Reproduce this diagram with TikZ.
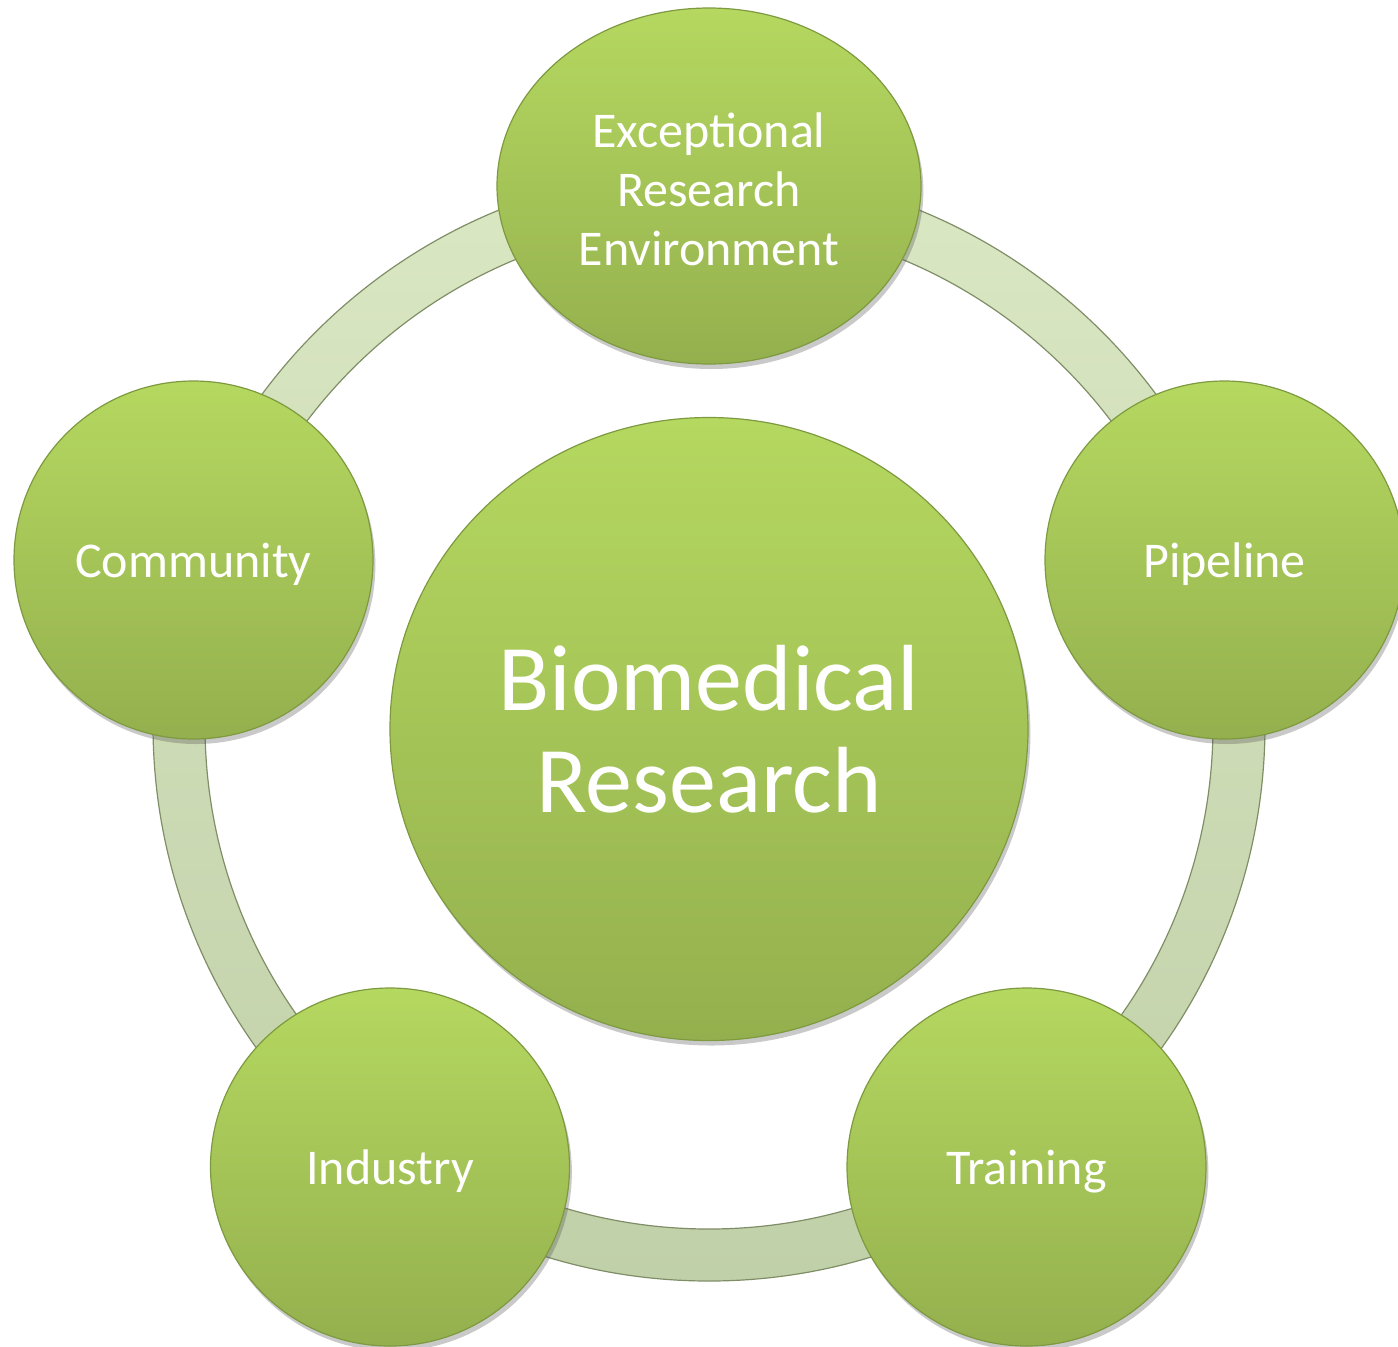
\documentclass[tikz,border=0pt]{standalone}
\usepackage{fontspec}
\setmainfont{Carlito}
\usetikzlibrary{shapes.geometric,shadows}
\definecolor{gtop}{RGB}{181,216,96}
\definecolor{gbot}{RGB}{148,176,78}
\definecolor{gedge}{RGB}{126,154,64}
\definecolor{rtop}{RGB}{218,231,195}
\definecolor{rbot}{RGB}{192,208,168}
\definecolor{redge}{RGB}{128,142,104}
\begin{document}
\begin{tikzpicture}[x=0.5pt,y=-0.5pt,
  bubble/.style={ellipse, draw=gedge, line width=0.6pt, top color=gtop, bottom color=gbot,
    text=white, align=center, inner sep=0pt, font=\fontsize{25}{29.5}\selectfont,
    drop shadow={shadow xshift=1.2pt, shadow yshift=-2.5pt, opacity=0.3, fill=black!70}},
  small/.style={bubble, minimum width=179.5pt, minimum height=179pt, text depth=0pt},
  label text/.style={text=white, align=center, inner sep=0pt, font=\fontsize{25}{29.5}\selectfont},
]
\useasboundingbox (0,0) rectangle (1398,1346);
% ring
\coordinate (rc) at (709,725);
\shade[top color=rtop, bottom color=rbot, even odd rule] (rc) circle (278pt) (rc) circle (252pt);
\draw[redge, line width=0.6pt] (rc) circle (278pt);
\draw[redge, line width=0.6pt] (rc) circle (252pt);
% center
\node[bubble, minimum width=319pt, minimum height=311.5pt, font=\fontsize{47}{51}\selectfont] (bio) at (709,729) {Biomedical\\Research};
% satellites
\node[bubble, minimum width=212pt, minimum height=178pt] (env) at (709,186) {};
\node[label text] (envtext) at ([yshift=-1.6pt]env.center) {Exceptional\\Research\\Environment};
\node[small] (pipe) at (1224.5,560) {Pipeline};
\node[small] (comm) at (193.5,560) {Community};
\node[small] (ind) at (390,1167) {Industry};
\node[small] (train) at (1026.5,1167) {Training};
\end{tikzpicture}
\end{document}
